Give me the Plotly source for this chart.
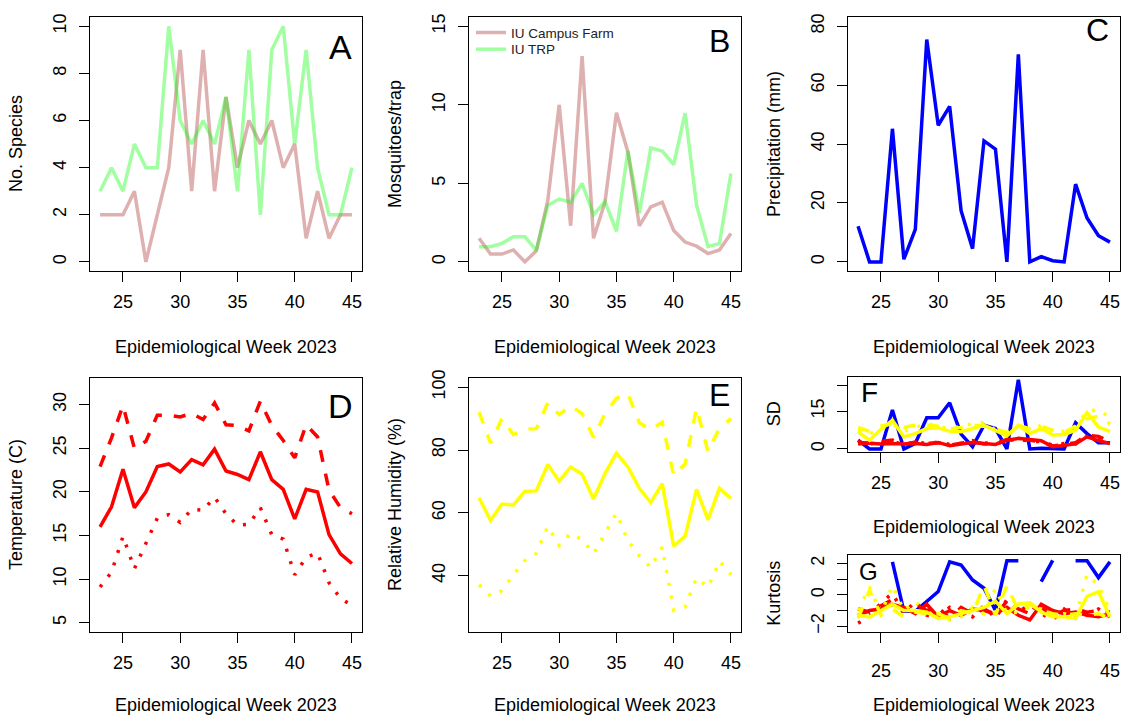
import plotly.graph_objects as go

W, H = 1129, 721
weeks = list(range(23, 46))

# Panel A: number of species
species_farm = [2, 2, 2, 3, 0, 2, 4, 9, 3, 9, 3, 7, 4, 6, 5, 6, 4, 5, 1, 3, 1, 2, 2]
species_trp = [3, 4, 3, 5, 4, 4, 10, 6, 5, 6, 5, 7, 3, 9, 2, 9, 10, 5, 9, 4, 2, 2, 4]

# Panel B: mosquitoes per trap
mosq_farm = [1.5, 0.5, 0.5, 0.76, 0, 0.7, 3.9, 10.0, 2.3, 13.1, 1.5, 3.8, 9.5, 7.0, 2.3, 3.5, 3.8, 2.0, 1.26, 1.0, 0.53, 0.76, 1.8]
mosq_trp = [0.97, 0.97, 1.18, 1.6, 1.6, 0.74, 3.6, 4.0, 3.8, 5.0, 3.0, 3.84, 1.95, 7.06, 3.1, 7.25, 7.06, 6.2, 9.47, 3.6, 0.97, 1.18, 5.63]

# Panel C: precipitation
precip = [12.1, 0, 0, 45.2, 0.9, 11, 75.5, 46.4, 52.8, 17.4, 4.5, 41.1, 38.3, 0, 70.5, 0, 1.8, 0.4, 0, 26.4, 14.9, 8.9, 6.7]

# Panel D: temperature (mean, max, min)
temp_mean = [16.0, 18.3, 22.6, 18.2, 20.0, 22.9, 23.2, 22.3, 23.7, 23.1, 24.9, 22.4, 22.0, 21.4, 24.6, 21.4, 20.3, 16.9, 20.3, 20.0, 15.1, 12.9, 11.8]
temp_max = [22.9, 26.2, 29.9, 25.0, 25.8, 28.8, 28.8, 28.6, 29.0, 28.3, 30.2, 27.7, 27.6, 27.0, 30.4, 27.6, 25.9, 23.9, 27.7, 26.3, 20.2, 18.2, 17.5]
temp_min = [9.1, 10.8, 14.9, 11.2, 14.1, 17.0, 17.4, 16.5, 18.0, 17.9, 19.4, 17.5, 16.2, 16.3, 18.2, 15.1, 14.6, 10.5, 12.5, 13.0, 9.6, 7.8, 7.0]

# Panel E: relative humidity (mean, max, min)
rh_mean = [64.8, 57.6, 62.8, 62.5, 66.9, 67.0, 75.4, 70.1, 74.6, 72.3, 64.4, 72.5, 79.0, 74.6, 67.8, 63.3, 69.3, 49.4, 52.6, 67.5, 57.8, 67.8, 64.6]
rh_max = [92.1, 82.2, 90.0, 84.9, 86.6, 86.8, 95.0, 91.3, 94.1, 91.6, 84.0, 91.6, 96.5, 97.9, 88.7, 86.4, 88.9, 71.9, 75.6, 93.4, 79.5, 87.0, 90.0]
rh_min = [37.1, 33.5, 35.3, 40.3, 44.8, 47.1, 55.7, 49.6, 53.5, 51.5, 47.0, 53.6, 59.9, 51.2, 46.3, 42.6, 49.1, 29.0, 30.1, 39.3, 36.3, 44.7, 40.3]

# Panel F: standard deviations
sd_precip = [3.5, 0, 0, 15.5, 0, 2.2, 12.4, 12.4, 18.3, 5.9, 0.9, 9.4, 8.1, 0, 27.4, 0, 0.3, 0, 0, 10.4, 6.1, 2.5, 2.5]
sd_temp_mean = [2.6, 2.2, 2.0, 2.2, 2.0, 2.2, 1.8, 2.6, 1.3, 2.0, 2.6, 2.2, 1.8, 3.5, 4.2, 3.8, 3.3, 0.9, 1.6, 2.0, 4.8, 3.3, 2.2]
sd_temp_max = [2.0, 2.5, 3.0, 3.5, 1.8, 2.8, 2.2, 2.5, 1.5, 2.4, 3.0, 2.0, 2.3, 3.8, 3.6, 3.5, 2.8, 1.2, 1.8, 2.5, 5.5, 5.0, 2.8]
sd_temp_min = [3.0, 2.0, 2.6, 3.2, 1.5, 3.0, 2.0, 2.8, 1.8, 2.2, 3.3, 2.4, 2.0, 3.2, 4.0, 3.0, 3.0, 1.5, 2.2, 2.0, 5.0, 4.4, 3.0]
sd_rh_mean = [6.8, 3.5, 7.8, 11.4, 4.8, 6.1, 8.1, 8.4, 7.0, 6.8, 8.1, 9.4, 7.4, 5.2, 9.4, 6.1, 8.1, 5.5, 5.7, 7.4, 14.4, 8.7, 7.0]
sd_rh_max = [8.5, 7.0, 9.0, 10.0, 8.5, 9.5, 9.5, 9.0, 8.0, 8.5, 9.5, 9.0, 8.0, 6.5, 9.5, 8.0, 9.0, 7.5, 6.5, 9.0, 12.0, 13.0, 10.0]
sd_rh_min = [7.5, 6.0, 8.0, 10.0, 7.0, 8.5, 10.0, 9.0, 8.0, 9.0, 10.0, 10.5, 7.5, 6.0, 9.0, 7.0, 9.5, 6.5, 7.0, 9.0, 15.0, 15.5, 12.5]

# Panel G: kurtosis
k_precip = [None, None, None, 2.1, -1.05, -1.05, -0.42, 0.21, 2.1, 1.9, 0.95, 0.42, -0.99, 2.17, 2.17, None, 0.84, 2.2, None, 2.17, 2.17, 1.1, 2.1]
k_temp_mean = [-1.3, -1.0, -0.9, -0.6, -0.8, -1.2, -0.6, -1.4, -1.0, -1.3, -0.9, -1.0, -1.2, -0.8, -1.3, -1.6, -0.6, -1.0, -1.2, -1.1, -1.3, -1.4, -1.2]
k_temp_max = [-0.9, -1.1, -0.7, -0.3, -1.0, -0.6, -1.0, -0.8, -1.5, -0.8, -1.2, -0.9, -1.3, -0.4, -0.9, -1.2, -0.8, -1.3, -1.0, -0.9, -1.1, -1.0, -1.1]
k_temp_min = [-1.8, -1.4, -0.5, 0.1, -1.2, -0.4, -1.3, -1.5, -0.8, -1.1, -1.4, -0.7, -1.5, -0.3, -1.1, -0.6, -1.2, -1.6, -0.9, -1.5, -1.3, -0.9, -1.4]
k_rh_mean = [-1.3, -1.4, -1.0, -0.6, -1.0, -1.0, -1.1, -1.5, -1.4, -1.2, -1.0, -0.8, -0.4, -1.2, -0.6, -0.5, -1.1, -1.4, -1.4, -1.5, -0.1, 0.2, -1.4]
k_rh_max = [-1.5, 0.3, -1.3, -0.9, -1.4, -1.1, -1.2, -1.2, -1.5, -1.0, -1.2, 0.6, -1.3, 0.6, -1.0, -0.6, -1.0, -1.2, -1.3, -1.2, -1.3, -1.2, -1.5]
k_rh_min = [-1.0, 0.5, -1.2, 0.6, -1.0, -0.4, -1.3, -1.2, -1.6, -1.4, -0.8, -1.2, 0.4, -1.2, -1.1, -0.8, -0.9, -1.3, -1.2, -1.4, 1.3, 0.6, -1.0]

x_ticks = [25, 30, 35, 40, 45]
x_title = "Epidemiological Week 2023"

FONT = "Liberation Sans, Arial, Helvetica, sans-serif"
BROWN = "rgba(165,42,42,0.37)"
GREEN = "rgba(0,255,0,0.37)"
LW = 3.5
DASH = "12px,12px"
DOT = "3px,10px"

# panel boxes in pixels: (left, right, top, bottom)
boxes = {
    1: (90, 362, 9, 267),
    2: (469, 741, 9, 267),
    3: (848, 1120, 9, 267),
    4: (90, 362, 375, 633),
    5: (469, 741, 375, 633),
    6: (848, 1120, 374, 450),
    7: (848, 1120, 555, 633),
}
yranges = {
    1: [-0.4, 10.4], 2: [-0.6, 15.6], 3: [-3.2, 83.2], 4: [3.92, 33.08],
    5: [22.0, 103.0], 6: [-1.1, 28.6], 7: [-2.38, 2.52],
}
yticks = {
    1: ([0, 2, 4, 6, 8, 10], None),
    2: ([0, 5, 10, 15], None),
    3: ([0, 20, 40, 60, 80], None),
    4: ([5, 10, 15, 20, 25, 30], None),
    5: ([40, 60, 80, 100], None),
    6: ([0, 15, 25], ["0", "15", ""]),
    7: ([-2, -1, 0, 1, 2], ["\u22122", "", "0", "", "2"]),
}

fig = go.Figure()

def add(i, y, color, dash="solid", name=None, legend=None):
    fig.add_trace(go.Scatter(
        x=weeks, y=y, mode="lines", name=name, showlegend=legend is not None,
        legend=legend if legend else "legend",
        line=dict(color=color, width=LW, dash=dash),
        xaxis="x" if i == 1 else f"x{i}", yaxis="y" if i == 1 else f"y{i}",
        connectgaps=False, hoverinfo="skip"))

add(1, species_farm, BROWN)
add(1, species_trp, GREEN)
add(2, mosq_farm, BROWN, name="IU Campus Farm", legend="legend")
add(2, mosq_trp, GREEN, name="IU TRP", legend="legend2")
add(3, precip, "#0000FF")
add(4, temp_max, "#FF0000", DASH)
add(4, temp_mean, "#FF0000")
add(4, temp_min, "#FF0000", DOT)
add(5, rh_max, "#FFFF00", DASH)
add(5, rh_mean, "#FFFF00")
add(5, rh_min, "#FFFF00", DOT)
add(6, sd_precip, "#0000FF")
add(6, sd_temp_max, "#FF0000", DASH)
add(6, sd_temp_mean, "#FF0000")
add(6, sd_temp_min, "#FF0000", DOT)
add(6, sd_rh_max, "#FFFF00", DASH)
add(6, sd_rh_mean, "#FFFF00")
add(6, sd_rh_min, "#FFFF00", DOT)
add(7, k_precip, "#0000FF")
add(7, k_temp_max, "#FF0000", DASH)
add(7, k_temp_mean, "#FF0000")
add(7, k_temp_min, "#FF0000", DOT)
add(7, k_rh_max, "#FFFF00", DASH)
add(7, k_rh_mean, "#FFFF00")
add(7, k_rh_min, "#FFFF00", DOT)

layout = {}
axis_common = dict(showline=True, mirror=True, linecolor="black", linewidth=1.3,
                   ticks="outside", ticklen=10, tickwidth=1.3, tickcolor="black",
                   showgrid=False, zeroline=False,
                   tickfont=dict(family=FONT, size=18, color="black"))
for i, (l, r, t, b) in boxes.items():
    xs = "" if i == 1 else str(i)
    xa = dict(axis_common, domain=[l / W, r / W], anchor=f"y{xs}",
              range=[22.12, 45.88], tickvals=x_ticks, ticklabelstandoff=4)
    if i == 7:
        xa["ticklabelstandoff"] = 12
    tv, tt = yticks[i]
    ya = dict(axis_common, domain=[1 - b / H, 1 - t / H], anchor=f"x{xs}",
              range=yranges[i], tickvals=tv, tickangle=-90, ticklabelstandoff=6)
    if tt is not None:
        ya["ticktext"] = tt
    layout[f"xaxis{xs}"] = xa
    layout[f"yaxis{xs}"] = ya

annotations = []
def txt(x, y, s, size=18, angle=0):
    annotations.append(dict(x=x / W, y=1 - y / H, xref="paper", yref="paper", text=s,
                            showarrow=False, textangle=angle, xanchor="center", yanchor="middle",
                            font=dict(family=FONT, size=size, color="black")))

# x axis titles
txt(226, 344, x_title); txt(605, 344, x_title); txt(984, 344, x_title)
txt(226, 707, x_title); txt(605, 707, x_title)
txt(984, 526, x_title); txt(984, 707, x_title)
# y axis titles
txt(16, 138, "No. Species", angle=-90)
txt(395, 138, "Mosquitoes/trap", angle=-90)
txt(774, 138, "Precipitation (mm)", angle=-90)
txt(16, 504, "Temperature (C)", angle=-90)
txt(395, 504, "Relative Humidity (%)", angle=-90)
txt(774, 412, "SD", angle=-90)
txt(774, 594, "Kurtosis", angle=-90)
# panel letters
txt(340, 40, "A", size=34)
txt(719, 33, "B", size=32)
txt(1097, 22, "C", size=32)
txt(340, 404, "D", size=34)
txt(719, 392, "E", size=32)
txt(869, 390, "F", size=28)
txt(868, 571, "G", size=24)

leg_common = dict(xanchor="left", yanchor="middle", bgcolor="rgba(0,0,0,0)", borderwidth=0,
                  font=dict(family=FONT, size=13.5, color="#222"), itemwidth=30)
fig.update_layout(
    width=W, height=H, margin=dict(l=0, r=0, t=0, b=0),
    paper_bgcolor="white", plot_bgcolor="white",
    font=dict(family=FONT, color="black"),
    annotations=annotations,
    legend=dict(leg_common, x=471 / W, y=1 - 25 / H),
    legend2=dict(leg_common, x=471 / W, y=1 - 42 / H),
    **layout,
)
fig.write_html("out.html", config={"displayModeBar": False},
               post_script="document.body.style.margin='0';document.body.style.overflow='hidden';")
